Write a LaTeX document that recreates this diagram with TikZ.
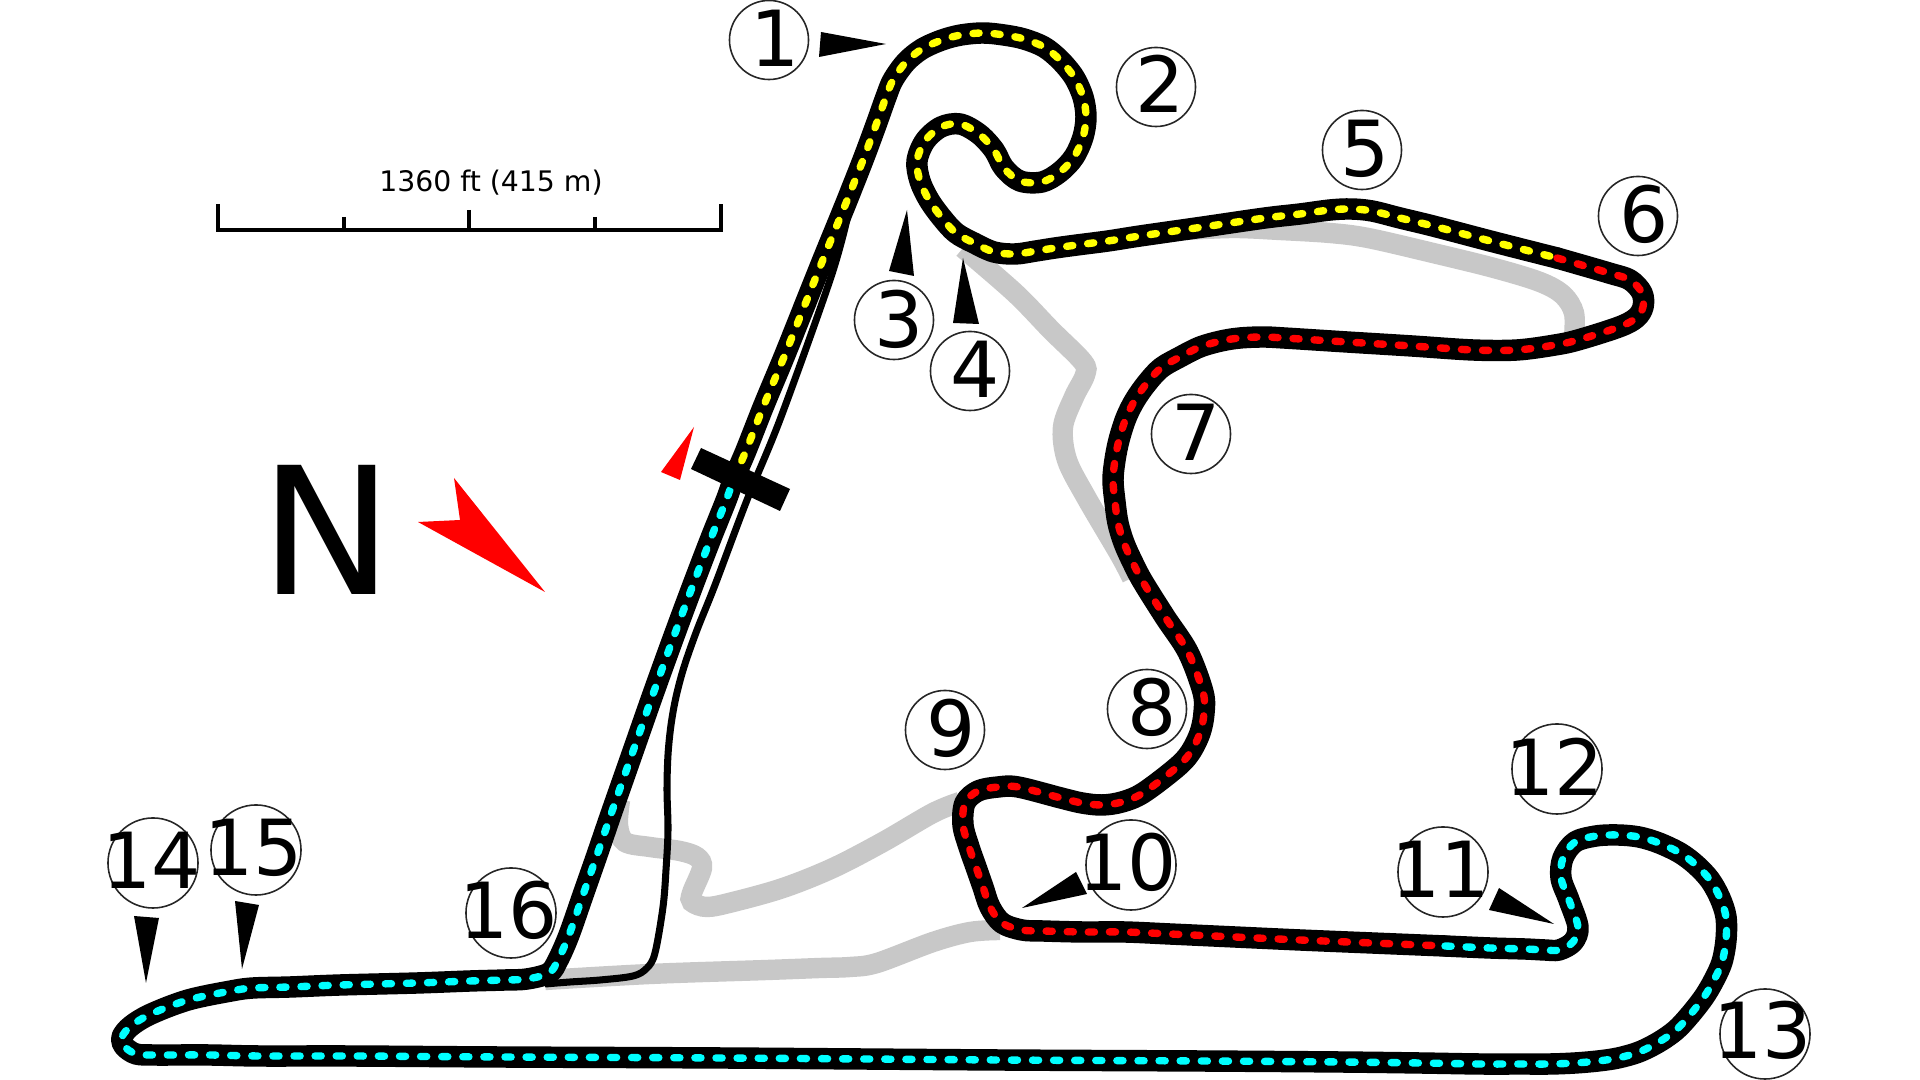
\documentclass[tikz,border=0pt]{standalone}
\usepackage{fontspec}
\setmainfont{DejaVu Sans}
\definecolor{runoff}{HTML}{C8C8C8}
\definecolor{sectorcyan}{HTML}{00FFFF}
\definecolor{sectoryellow}{HTML}{FFFF00}
\definecolor{sectorred}{HTML}{FF0000}

\newcommand{\sectorA}{plot[smooth,tension=0.55] coordinates {(733,480) (745,453) (764,405) (784,357) (804,307) (824,257) (844,208) (863,160) (876,125) (886,97) (893,80) (906,62) (922,49) (942,40) (961,35) (983,33) (1004,35) (1024,39) (1044,47) (1060,60) (1074,77) (1083,97) (1086,117) (1083,137) (1074,157) (1060,172) (1042,182) (1020,181) (1004,168) (994,150) (979,134) (960,124) (941,127) (925,141) (917,161) (920,181) (929,200) (942,218) (956,233) (974,243) (994,252) (1015,254) (1036,251) (1055,248) (1077,245) (1108,241) (1140,236) (1203,227) (1265,218) (1300,214) (1330,210) (1351,209) (1372,211) (1400,218) (1433,226) (1494,242) (1557,258)}}
\newcommand{\sectorB}{plot[smooth,tension=0.55] coordinates {(1557,258) (1609,273) (1630,280) (1642,293) (1643,307) (1636,318) (1619,327) (1578,340) (1555,345) (1517,350) (1473,350) (1412,346) (1347,342) (1284,338) (1263,337) (1240,338) (1221,341) (1200,347) (1180,357) (1161,368) (1147,383) (1135,400) (1126,418) (1119,440) (1115,460) (1113,480) (1115,502) (1118,523) (1124,543) (1133,563) (1143,582) (1165,617) (1188,652) (1203,692) (1204,713) (1200,733) (1190,753) (1176,768) (1143,793) (1122,802) (1102,805) (1082,803) (1061,798) (1018,787) (998,787) (978,791) (965,803) (963,825) (969,847) (976,867) (983,887) (990,907) (1002,923) (1022,930) (1043,931) (1083,932) (1125,932) (1170,934) (1235,937) (1300,940) (1372,943) (1445,946)}}
\newcommand{\sectorC}{plot[smooth,tension=0.55] coordinates {(1445,946) (1490,948) (1525,949) (1545,950) (1559,950) (1573,942) (1578,927) (1569,900) (1561,878) (1563,858) (1575,842) (1596,836) (1618,835) (1639,837) (1659,843) (1680,853) (1696,865) (1710,880) (1720,898) (1726,917) (1726,940) (1722,962) (1714,980) (1704,997) (1690,1015) (1676,1030) (1659,1042) (1639,1052) (1618,1058) (1598,1061) (1575,1063) (1550,1064) (1520,1064) (1480,1064) (1420,1063) (1340,1062) (1200,1061) (1000,1060) (723,1058) (500,1057) (350,1056) (260,1056) (210,1055) (175,1055) (155,1055) (136,1054) (124,1046) (122,1037) (131,1026) (151,1014) (188,1000) (231,991) (253,988) (290,987) (340,985) (417,983) (470,981) (505,980) (527,979) (549,973) (558,960) (569,935) (583,895) (597,855) (610,817) (624,777) (638,737) (652,697) (666,658) (681,617) (696,577) (711,538) (727,498) (733,480)}}

\tikzset{
  casing/.style={line width=6.1pt, line cap=round, line join=round},
  dashes/.style={line width=2.1pt, line cap=round, dash pattern=on 1.75pt off 4.25pt},
  runoffband/.style={runoff, line width=5.8pt},
}

\begin{document}
\begin{tikzpicture}[x=0.01cm,y=-0.01cm]
\useasboundingbox (0,0) rectangle (1920,1080);
% run-off areas
\draw[runoffband] plot[smooth,tension=0.55] coordinates {(963,248) (1015,293) (1051,330) (1083,362) (1085,375) (1074,397) (1063,427) (1067,460) (1086,497) (1120,555) (1132,578)};
\draw[runoffband] plot[smooth,tension=0.55] coordinates {(1185,230) (1234,228) (1280,230) (1330,233) (1368,238) (1433,253) (1494,268) (1540,282) (1563,295) (1574,313) (1574,337)};
\draw[runoffband] plot[smooth,tension=0.55] coordinates {(960,802) (933,813) (883,842) (833,868) (783,888) (733,902) (707,907) (692,902) (692,893) (702,868) (697,857) (680,851) (650,847) (625,842) (618,825) (620,800)};
\draw[runoffband] plot[smooth,tension=0.55] coordinates {(1000,930) (970,932) (933,942) (877,963) (850,967) (820,968) (767,970) (650,974) (545,980)};
% pit lane
\draw[line width=2pt] plot[smooth,tension=0.55] coordinates {(848,215) (831,277) (781,417) (747,500) (715,585) (697,630) (684,667) (676,697) (671,725) (668,755) (667,790) (668,830) (666,870) (663,907) (655,953) (647,968) (633,976) (600,980) (570,982) (545,984)};
% track
\draw[casing] \sectorA;
\draw[casing] \sectorB;
\draw[casing] \sectorC;
\draw[dashes,sectorcyan] \sectorC;
\draw[dashes,sectoryellow] \sectorA;
\draw[dashes,sectorred] \sectorB;
% start line
\fill (701,448) -- (790,489) -- (780,511) -- (691,469) -- cycle;
\fill[sectorred] (694,427) -- (661,472) -- (680,480) -- cycle;
% north
\node[font=\fontsize{50.4}{50.4}\selectfont, inner sep=0pt] (north) at (327,530) {N};
\fill[sectorred] (454,478) -- (460,520) -- (418,522) -- (545,592) -- cycle;
% scale
\draw[line width=1pt] (218,204) -- (218,230) -- (721,230) -- (721,204);
\draw[line width=1pt] (344,217) -- (344,230);
\draw[line width=1pt] (469,210) -- (469,230);
\draw[line width=1pt] (595,217) -- (595,230);
\node[font=\fontsize{8.05}{8.05}\selectfont, inner sep=0pt] (scalelabel) at (491,183) {1360 ft (415 m)};
% corner pointers
\fill (821,32) -- (886,44) -- (819,57) -- cycle;
\fill (907,210) -- (889,271) -- (914,276) -- cycle;
\fill (963,258) -- (953,323) -- (979,324) -- cycle;
\fill (1076,872) -- (1087,894) -- (1022,908) -- cycle;
\fill (1499,888) -- (1489,910) -- (1554,924) -- cycle;
\fill (134,916) -- (159,918) -- (146,983) -- cycle;
\fill (235,901) -- (259,905) -- (242,969) -- cycle;
% corner rings
\begin{scope}[every node/.style={draw=black!85, circle, line width=0.45pt, inner sep=0pt, minimum size=0.79cm}]
  \node (r1) at (769,40) {};
  \node (r2) at (1156,87) {};
  \node (r3) at (894,320) {};
  \node (r4) at (970,371) {};
  \node (r5) at (1362,150) {};
  \node (r6) at (1638,216) {};
  \node (r7) at (1191,434) {};
  \node (r8) at (1147,709) {};
  \node (r9) at (945,730) {};
\end{scope}
\begin{scope}[every node/.style={draw=black!85, circle, line width=0.45pt, inner sep=0pt, minimum size=0.90cm}]
  \node (r10) at (1131,865) {};
  \node (r11) at (1443,872) {};
  \node (r12) at (1557,769) {};
  \node (r13) at (1765,1034) {};
  \node (r14) at (153,863) {};
  \node (r15) at (256,850) {};
  \node (r16) at (511,913) {};
\end{scope}
% corner numbers
\begin{scope}[every node/.style={font=\fontsize{22}{22}\selectfont, inner sep=0pt}]
  \node (n1) at (775,38) {1};
  \node (n2) at (1160,84) {2};
  \node (n3) at (899,319) {3};
  \node (n4) at (975,369) {4};
  \node (n5) at (1365,149) {5};
  \node (n6) at (1644,214) {6};
  \node (n7) at (1196,432) {7};
  \node (n8) at (1152,707) {8};
  \node (n9) at (951,728) {9};
  \node (n10) at (1128,862) {10};
  \node (n11) at (1441,869) {11};
  \node (n12) at (1555,767) {12};
  \node (n13) at (1763,1030) {13};
  \node (n14) at (152,860) {14};
  \node (n15) at (254,848) {15};
  \node (n16) at (509,910) {16};
\end{scope}
\end{tikzpicture}
\end{document}
